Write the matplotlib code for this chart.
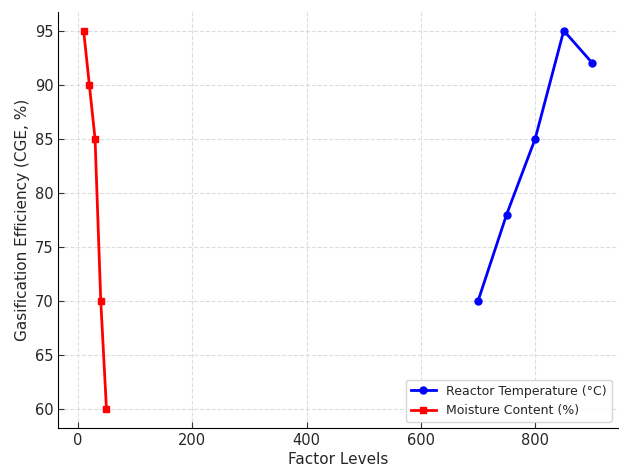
import matplotlib.pyplot as plt

# reactor temperature series
temp_x = [700, 750, 800, 850, 900]
temp_y = [70, 78, 85, 95, 92]
# moisture content series
moist_x = [10, 20, 30, 40, 50]
moist_y = [95, 90, 85, 70, 60]

plt.rcParams['text.color'] = '#262626'
plt.rcParams['axes.labelcolor'] = '#262626'
plt.rcParams['xtick.labelcolor'] = '#262626'
plt.rcParams['ytick.labelcolor'] = '#262626'

fig, ax = plt.subplots(figsize=(6.19, 4.67), dpi=100)
ax.plot(temp_x, temp_y, color='blue', marker='o', markersize=5, linewidth=2,
        label='Reactor Temperature (°C)')
ax.plot(moist_x, moist_y, color='red', marker='s', markersize=5, linewidth=2,
        label='Moisture Content (%)')

ax.set_xlabel('Factor Levels', fontsize=11, labelpad=3)
ax.set_ylabel('Gasification Efficiency (CGE, %)', fontsize=11, labelpad=3)
ax.set_xticks([0, 200, 400, 600, 800])
ax.set_yticks([60, 65, 70, 75, 80, 85, 90, 95])
ax.tick_params(labelsize=10.5, direction='in', color='#333333', length=4)
ax.grid(True, linestyle='--', color='#dddddd', linewidth=0.8)
ax.spines['top'].set_visible(False)
ax.spines['right'].set_visible(False)
ax.legend(loc='lower right', fontsize=9)

fig.subplots_adjust(left=0.094, right=0.998, top=0.975, bottom=0.083)
fig.savefig('out.png', dpi=100)
